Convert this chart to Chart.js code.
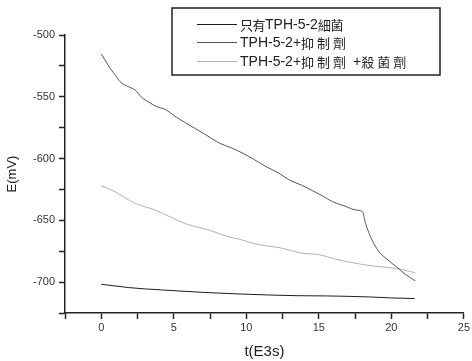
<!DOCTYPE html>
<html>
<head>
<meta charset="utf-8">
<script src="https://cdn.jsdelivr.net/npm/chart.js@4.4.1/dist/chart.umd.min.js"></script>
<style>
  html, body { margin: 0; padding: 0; background: #fff; }
  #wrap { width: 472px; height: 361px; }
</style>
</head>
<body>
<div id="wrap"><canvas id="chart"></canvas></div>
<script>
const seriesLabels = ["只有TPH-5-2細菌", "TPH-5-2+抑制劑", "TPH-5-2+抑制劑 +殺菌劑"];

// 只有TPH-5-2細菌
const bacteriaT = [0, 0.6, 1.87, 3.0, 4.16, 5.5, 7.36, 9.5, 11.47, 13.5, 15.59, 17.0, 18.5, 20.0, 21.6];
const bacteriaE = [-701.8, -702.6, -704.4, -705.5, -706.3, -707.3, -708.5, -709.6, -710.4, -711.0, -711.2, -711.5, -712.0, -712.8, -713.3];

// TPH-5-2+抑制劑
const inhibitorT = [0, 0.3, 0.62, 1.0, 1.3, 1.87, 2.33, 2.79, 3.3, 3.82, 4.39, 5.19, 5.8, 6.45, 7.1, 7.7, 8.16, 9.0, 9.76, 10.5, 11.36, 12.2, 12.96, 13.8, 14.56, 15.3, 15.94, 16.8, 17.54, 18.0, 18.22, 18.56, 19.14, 19.7, 20.39, 21.0, 21.65];
const inhibitorE = [-515.4, -521, -527, -533, -537.8, -541.8, -544.5, -550.5, -554.5, -558, -560.1, -566.6, -571, -575.5, -580, -584.4, -587.6, -591.5, -595.7, -600.5, -606.5, -611.5, -617.3, -621.5, -626, -630.5, -634.9, -638.5, -641.6, -643, -652.4, -663.2, -675.3, -681.5, -688, -694, -699];

// TPH-5-2+抑制劑 +殺菌劑
const biocideT = [0, 0.96, 1.6, 2.33, 3.0, 3.7, 4.85, 5.99, 6.8, 7.59, 8.73, 9.53, 10.45, 11.3, 12.28, 13.1, 13.88, 15.02, 16.16, 17.2, 18.22, 19.2, 20.28, 21.0, 21.65];
const biocideE = [-621.9, -626.8, -631.5, -636.2, -639, -641.6, -647.8, -653.5, -656, -658.5, -663.2, -665.3, -668.6, -670.5, -672.1, -674.5, -676.7, -677.8, -681.5, -684, -686.1, -687.5, -688.8, -690.5, -692.5];

const xTicks = [-2.5, 0, 2.5, 5, 7.5, 10, 12.5, 15, 17.5, 20, 22.5, 25];
const yTicks = [-725, -700, -675, -650, -625, -600, -575, -550, -525, -500];

const lineColors = ["#1e1e1e", "#555555", "#b0b0b0"];
const fontFamily = "'Liberation Sans', Arial, 'Noto Sans CJK TC', sans-serif";
const cjkFont = "'Noto Sans CJK TC', sans-serif";

function toPoints(ts, es) {
  return ts.map((t, i) => ({ x: t, y: es[i] }));
}

function isCjk(ch) {
  return ch.charCodeAt(0) > 0x2e80;
}

// draw a legend label char by char, CJK glyphs a bit smaller and spaced out
function drawLabel(ctx, text, x, y, cjkAdvance) {
  let cx = x;
  for (const ch of text) {
    if (isCjk(ch)) {
      ctx.font = "13px " + cjkFont;
      ctx.fillText(ch, cx, y);
      cx += cjkAdvance;
    } else {
      ctx.font = "14px " + fontFamily;
      ctx.fillText(ch, cx, y);
      cx += ch === " " ? 4 : ctx.measureText(ch).width;
    }
  }
}

const boxLegend = {
  id: "boxLegend",
  afterDraw(chart) {
    const ctx = chart.ctx;
    ctx.save();
    ctx.strokeStyle = "#222";
    ctx.lineWidth = 1.5;
    ctx.strokeRect(172, 8, 268, 67);
    ctx.textBaseline = "middle";
    ctx.fillStyle = "#222";
    const rows = [24, 42, 61];
    const advances = [12.5, 16, 16];
    seriesLabels.forEach((label, i) => {
      ctx.strokeStyle = lineColors[i];
      ctx.lineWidth = 1;
      ctx.beginPath();
      ctx.moveTo(197, rows[i] + 0.5);
      ctx.lineTo(237, rows[i] + 0.5);
      ctx.stroke();
      drawLabel(ctx, label, 240, rows[i] + 1, advances[i]);
    });
    ctx.restore();
  }
};

new Chart(document.getElementById("chart"), {
  type: "line",
  data: {
    datasets: [
      { label: seriesLabels[0], data: toPoints(bacteriaT, bacteriaE), borderColor: lineColors[0] },
      { label: seriesLabels[1], data: toPoints(inhibitorT, inhibitorE), borderColor: lineColors[1] },
      { label: seriesLabels[2], data: toPoints(biocideT, biocideE), borderColor: lineColors[2] }
    ]
  },
  options: {
    responsive: true,
    maintainAspectRatio: false,
    animation: false,
    parsing: false,
    elements: {
      line: { borderWidth: 1, cubicInterpolationMode: "monotone", fill: false },
      point: { radius: 0 }
    },
    layout: { padding: { top: 35, right: 6, left: 0, bottom: 0 } },
    plugins: {
      legend: { display: false },
      tooltip: { enabled: false }
    },
    scales: {
      x: {
        type: "linear",
        min: -2.5,
        max: 25,
        afterBuildTicks(scale) {
          scale.ticks = xTicks.map(v => ({ value: v }));
        },
        afterFit(scale) {
          scale.height = 48;
        },
        ticks: {
          autoSkip: false,
          maxRotation: 0,
          padding: 2,
          color: "#333",
          font: { family: fontFamily, size: 11 },
          callback(value) {
            return value % 5 === 0 ? String(value) : "";
          }
        },
        grid: {
          drawOnChartArea: false,
          drawTicks: true,
          tickLength: 6,
          tickColor: "#222",
          tickWidth: 1.5
        },
        border: { display: true, color: "#222", width: 1.5 },
        title: {
          display: true,
          text: "t(E3s)",
          color: "#222",
          padding: { top: 4, bottom: 0 },
          font: { family: fontFamily, size: 15 }
        }
      },
      y: {
        min: -725,
        max: -500,
        afterBuildTicks(scale) {
          scale.ticks = yTicks.map(v => ({ value: v }));
        },
        afterFit(scale) {
          scale.width = 65;
        },
        ticks: {
          autoSkip: false,
          padding: 4,
          color: "#333",
          font: { family: fontFamily, size: 11 },
          callback(value) {
            return value % 50 === 0 ? String(value) : "";
          }
        },
        grid: {
          drawOnChartArea: false,
          drawTicks: true,
          tickLength: 6,
          tickColor: "#222",
          tickWidth: 1.5
        },
        border: { display: true, color: "#222", width: 1.5 },
        title: {
          display: true,
          text: "E(mV)",
          color: "#222",
          padding: { top: 5, bottom: 0 },
          font: { family: fontFamily, size: 13 }
        }
      }
    }
  },
  plugins: [boxLegend]
});
</script>
</body>
</html>
